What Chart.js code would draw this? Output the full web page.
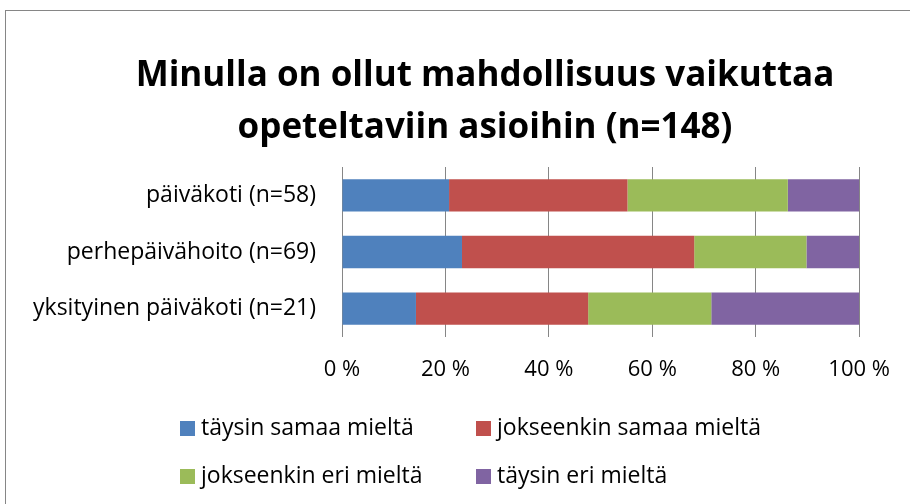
<!DOCTYPE html>
<html>
<head>
<meta charset="utf-8">
<script src="https://cdn.jsdelivr.net/npm/chart.js@4.4.1/dist/chart.umd.min.js"></script>
<style>
  html, body { margin: 0; padding: 0; background: #fff; }
  #wrap { width: 910px; height: 504px; position: relative; }
</style>
</head>
<body>
<div id="wrap"><canvas id="chart" width="910" height="504"></canvas></div>
<script>
// values (% of answers per group)
const categories = ["päiväkoti (n=58)", "perhepäivähoito (n=69)", "yksityinen päiväkoti (n=21)"];
const seriesNames = ["täysin samaa mieltä", "jokseenkin samaa mieltä", "jokseenkin eri mieltä", "täysin eri mieltä"];
const taysinSamaa = [20.7, 23.2, 14.3];
const jokseenkinSamaa = [34.5, 44.9, 33.3];
const jokseenkinEri = [31.0, 21.7, 23.8];
const taysinEri = [13.8, 10.2, 28.6];
const tickValues = [0, 20, 40, 60, 80, 100];
const titleLines = ["Minulla on ollut mahdollisuus vaikuttaa", "opeteltaviin asioihin (n=148)"];

const colors = ["#4F81BD", "#C0504D", "#9BBB59", "#8064A2"];
const FONT = "'Open Sans', sans-serif";

const seriesData = [taysinSamaa, jokseenkinSamaa, jokseenkinEri, taysinEri];
const datasets = seriesNames.map(function (name, i) {
  return {
    label: name,
    data: seriesData[i],
    backgroundColor: colors[i],
    borderWidth: 0,
    barPercentage: 1,
    categoryPercentage: 0.57
  };
});

// frame, title centred on the frame, legend in two aligned columns
const framePlugin = {
  id: "frame",
  beforeDraw(chart) {
    const ctx = chart.ctx;
    ctx.save();
    ctx.fillStyle = "#fff";
    ctx.fillRect(0, 0, chart.width, chart.height);
    ctx.strokeStyle = "#868686";
    ctx.lineWidth = 1;
    ctx.strokeRect(5.5, 10.5, 960, 520);
    ctx.restore();
  },
  afterDraw(chart) {
    const ctx = chart.ctx;
    ctx.save();
    ctx.textAlign = "center";
    ctx.textBaseline = "middle";
    ctx.fillStyle = "#000";
    ctx.font = "bold 35px " + FONT;
    ctx.fillText(titleLines[0], 485, 76);
    ctx.fillText(titleLines[1], 485, 128);

    const cols = [180, 476];
    const rows = [428, 476];
    ctx.textAlign = "left";
    ctx.font = "23px " + FONT;
    chart.data.datasets.forEach(function (ds, i) {
      const x = cols[i % 2];
      const y = rows[Math.floor(i / 2)];
      ctx.fillStyle = ds.backgroundColor;
      ctx.fillRect(x, y - 7, 15, 15);
      ctx.fillStyle = "#000";
      ctx.fillText(ds.label, x + 21, y);
    });
    ctx.restore();
  }
};

new Chart(document.getElementById("chart"), {
  type: "bar",
  data: { labels: categories, datasets: datasets },
  plugins: [framePlugin],
  options: {
    indexAxis: "y",
    responsive: false,
    animation: false,
    layout: { padding: { left: 10, right: 47, top: 167, bottom: 100 } },
    plugins: {
      legend: { display: false },
      tooltip: { enabled: false },
      title: { display: false }
    },
    scales: {
      x: {
        stacked: true,
        min: 0,
        max: 100,
        afterBuildTicks(scale) {
          scale.ticks = tickValues.map(function (v) { return { value: v }; });
        },
        afterFit(scale) { scale.height = 67; },
        grid: { color: "#868686", lineWidth: 1, drawTicks: false },
        border: { display: false },
        ticks: {
          padding: 20,
          color: "#000",
          font: { family: FONT, size: 22 },
          callback: function (v) { return v + " %"; }
        }
      },
      y: {
        stacked: true,
        afterFit(scale) { scale.width = 332; },
        grid: { display: false, drawTicks: false },
        border: { display: false },
        ticks: {
          padding: 26,
          color: "#000",
          font: { family: FONT, size: 23 }
        }
      }
    }
  }
});
</script>
</body>
</html>
